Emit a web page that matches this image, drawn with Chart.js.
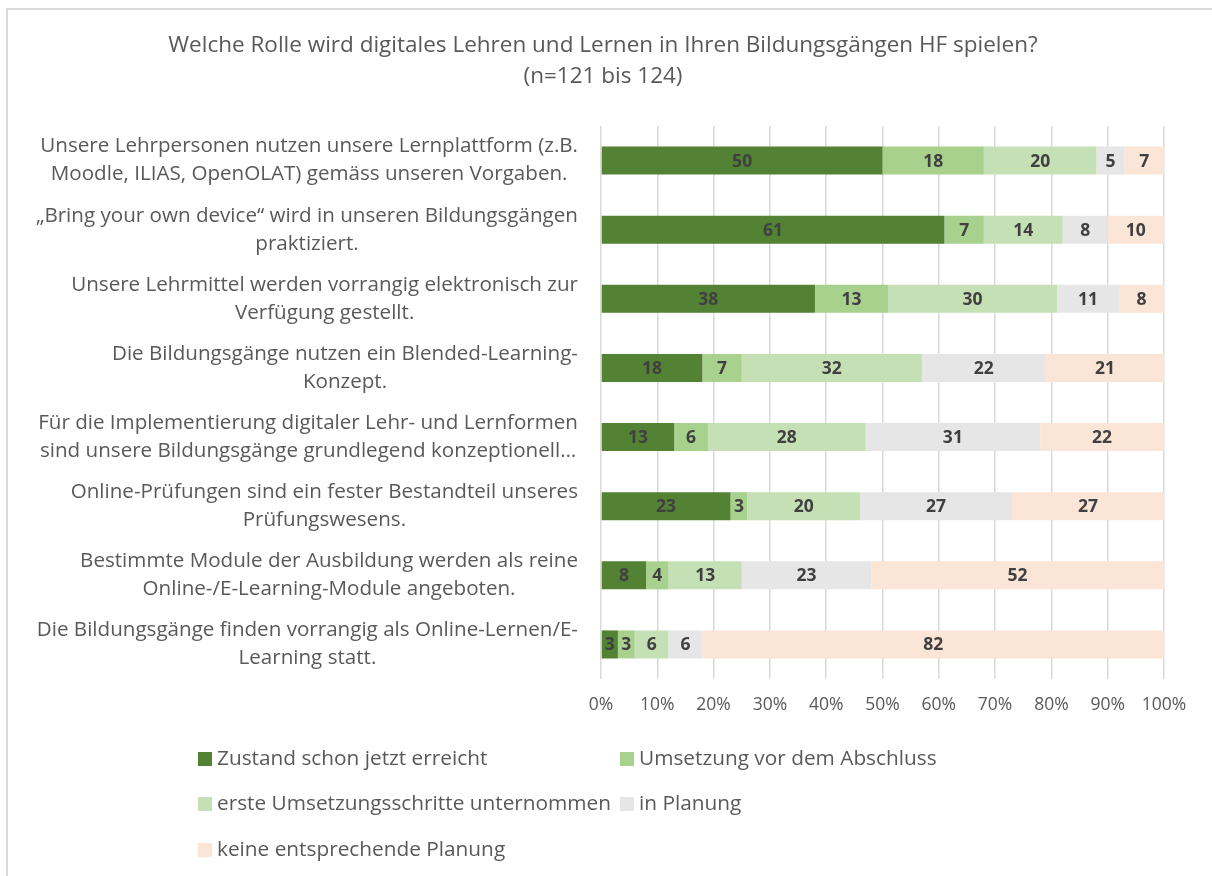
<!DOCTYPE html>
<html>
<head>
<meta charset="utf-8">
<script src="https://cdn.jsdelivr.net/npm/chart.js@4"></script>
<style>
	body { margin: 0; background: #fff; }
	#wrap { position: relative; width: 1212px; height: 876px; overflow: hidden; }
	#frame { position: absolute; left: 6px; top: 8px; width: 1240px; height: 900px; border-top: 2px solid #d9d9d9; border-left: 2px solid #d9d9d9; }
	#chart { position: absolute; left: 0; top: 0; }
	.lg { position: absolute; font: 20.8px "Open Sans", sans-serif; color: #595959; white-space: nowrap; line-height: 26px; }
	.lg span { display: inline-block; width: 14px; height: 14px; margin-right: 5px; vertical-align: -1px; }
</style>
</head>
<body>
<div id="wrap">
	<div id="frame"></div>
	<canvas id="chart" width="1212" height="876"></canvas>
	<div id="legend"></div>
</div>
<script>
const categories = [
	["Unsere Lehrpersonen nutzen unsere Lernplattform (z.B.", "Moodle, ILIAS, OpenOLAT) gemäss unseren Vorgaben."],
	["„Bring your own device“ wird in unseren Bildungsgängen", "praktiziert."],
	["Unsere Lehrmittel werden vorrangig elektronisch zur", "Verfügung gestellt."],
	["Die Bildungsgänge nutzen ein Blended-Learning-", "Konzept."],
	["Für die Implementierung digitaler Lehr- und Lernformen", "sind unsere Bildungsgänge grundlegend konzeptionell…"],
	["Online-Prüfungen sind ein fester Bestandteil unseres", "Prüfungswesens."],
	["Bestimmte Module der Ausbildung werden als reine", "Online-/E-Learning-Module angeboten."],
	["Die Bildungsgänge finden vorrangig als Online-Lernen/E-", "Learning statt."]
];
const seriesNames = ["Zustand schon jetzt erreicht", "Umsetzung vor dem Abschluss", "erste Umsetzungsschritte unternommen", "in Planung", "keine entsprechende Planung"];
const erreicht = [50, 61, 38, 18, 13, 23, 8, 3];
const vorAbschluss = [18, 7, 13, 7, 6, 3, 4, 3];
const ersteSchritte = [20, 14, 30, 32, 28, 20, 13, 6];
const inPlanung = [5, 8, 11, 22, 31, 27, 23, 6];
const keinePlanung = [7, 10, 8, 21, 22, 27, 52, 82];
const xTicks = [0, 10, 20, 30, 40, 50, 60, 70, 80, 90, 100];
const titleLines = ["Welche Rolle wird digitales Lehren und Lernen in Ihren Bildungsgängen HF spielen?", "(n=121 bis 124)"];
const colors = ["#548235", "#a9d18e", "#c5e0b4", "#e7e6e6", "#fbe5d6"];

const FONT = "'Open Sans', sans-serif";
const values = [erreicht, vorAbschluss, ersteSchritte, inPlanung, keinePlanung];

// titel, werte im segment, kategorietexte (zeilen zentriert, block rechtsbündig)
const drawTexts = {
	id: 'drawTexts',
	afterDatasetsDraw(chart) {
		const ctx = chart.ctx;
		ctx.save();
		ctx.textAlign = "center";
		ctx.textBaseline = "middle";

		ctx.font = "22.5px " + FONT;
		ctx.fillStyle = "#595959";
		titleLines.forEach((t, k) => ctx.fillText(t, 603, 46 + k * 31));

		ctx.font = "bold 17.5px " + FONT;
		ctx.fillStyle = "#404040";
		chart.data.datasets.forEach((ds, i) => {
			chart.getDatasetMeta(i).data.forEach((bar, j) => {
				const x = (bar.x + bar.base) / 2;
				ctx.fillText(ds.data[j], x, bar.y + 1);
			});
		});

		ctx.font = "20.6px " + FONT;
		ctx.fillStyle = "#595959";
		const yScale = chart.scales.y;
		categories.forEach((lines, i) => {
			const yc = yScale.getPixelForValue(i);
			const widest = Math.max(...lines.map(l => ctx.measureText(l).width));
			const cx = 578 - widest / 2;
			lines.forEach((l, k) => {
				ctx.fillText(l, cx, yc + (k - (lines.length - 1) / 2) * 28);
			});
		});
		ctx.restore();
	}
};

new Chart(document.getElementById('chart'), {
	type: 'bar',
	data: {
		labels: categories.map(c => c.join(' ')),
		datasets: seriesNames.map((name, i) => ({
			label: name,
			data: values[i],
			backgroundColor: colors[i],
			borderWidth: 0,
			barPercentage: 0.7,
			categoryPercentage: 0.58
		}))
	},
	options: {
		indexAxis: 'y',
		responsive: false,
		animation: false,
		layout: { padding: { left: 0, right: 48, top: 126, bottom: 144 } },
		plugins: {
			legend: { display: false },
			tooltip: { enabled: false },
			title: { display: false }
		},
		scales: {
			x: {
				stacked: true,
				min: 0,
				max: 100,
				afterBuildTicks(axis) { axis.ticks = xTicks.map(v => ({ value: v })); },
				grid: { color: "#d9d9d9", lineWidth: 1.5, drawTicks: false },
				border: { display: false },
				ticks: {
					color: "#595959",
					font: { family: FONT, size: 17.5 },
					padding: 16,
					maxRotation: 0,
					callback: v => v + "%"
				}
			},
			y: {
				stacked: true,
				grid: { display: false },
				border: { display: false },
				ticks: { display: false },
				afterFit(axis) { axis.width = 601; }
			}
		}
	},
	plugins: [drawTexts]
});

// legende
const legendPos = [[198, 744], [620, 744], [198, 789], [620, 789], [198, 835]];
document.getElementById('legend').innerHTML = seriesNames.map((n, i) =>
	`<div class="lg" style="left:${legendPos[i][0]}px;top:${legendPos[i][1]}px"><span style="background:${colors[i]}"></span>${n}</div>`
).join('');
</script>
</body>
</html>
